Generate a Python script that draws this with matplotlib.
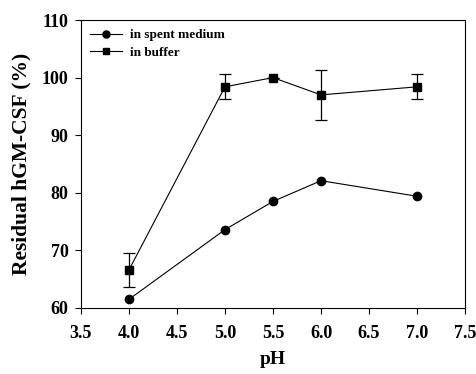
import matplotlib.pyplot as plt

ph = [4.0, 5.0, 5.5, 6.0, 7.0]
spent = [61.5, 73.6, 78.5, 82.1, 79.4]
buffer_vals = [66.6, 98.4, 100.0, 97.0, 98.4]
buffer_err = [2.9, 2.2, 0.0, 4.3, 2.2]

plt.rcParams['font.family'] = 'Liberation Serif'
plt.rcParams['font.weight'] = 'bold'

fig = plt.figure(figsize=(4.76, 3.74), dpi=100)
ax = fig.add_axes([0.170, 0.1765, 0.807, 0.770])

ax.plot(ph, spent, color='black', lw=0.8, marker='o', markersize=6,
        label='in spent medium')
# error bars drawn separately so the legend shows only line + marker
ax.errorbar(ph, buffer_vals, yerr=buffer_err, fmt='none', ecolor='black',
            capsize=4, elinewidth=0.9, capthick=0.9)
ax.plot(ph, buffer_vals, color='black', lw=0.8, marker='s', markersize=5.5,
        label='in buffer')

ax.set_xlim(3.5, 7.5)
ax.set_ylim(60, 110)
ax.set_xticks([3.5, 4.0, 4.5, 5.0, 5.5, 6.0, 6.5, 7.0, 7.5])
ax.set_yticks([60, 70, 80, 90, 100, 110])
ax.xaxis.set_major_formatter(plt.FormatStrFormatter('%.1f'))
ax.tick_params(direction='out', length=4, width=0.8, labelsize=13)
ax.tick_params(axis='x', pad=8)
ax.tick_params(axis='y', pad=5)
for s in ax.spines.values():
    s.set_linewidth(0.8)

ax.set_xlabel('pH', fontsize=14, fontweight='bold', labelpad=7)
ax.set_ylabel('Residual hGM-CSF (%)', fontsize=15.5, fontweight='bold', labelpad=7)

ax.legend(loc='upper left', frameon=False, fontsize=9.5, handlelength=2.4,
          borderaxespad=0.3, labelspacing=0.4, handletextpad=0.6,
          markerscale=0.85)

fig.savefig('out.png', dpi=100)
